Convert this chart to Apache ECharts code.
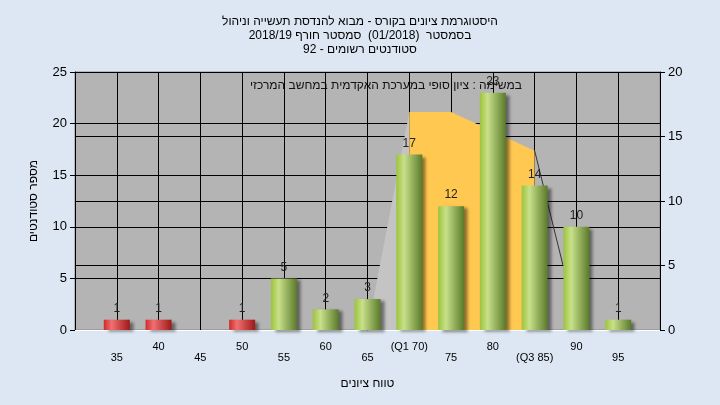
<!DOCTYPE html>
<html><head><meta charset="utf-8">
<script src="https://cdn.jsdelivr.net/npm/echarts@6/dist/echarts.min.js"></script>
<style>html,body{margin:0;background:#dde7f3}#c{width:720px;height:405px}</style>
</head><body><div id="c"></div>
<script>
var categories = ['35','40','45','50','55','60','65','70','75','80','85','90','95'];
var tickLabels = ['35','40','45','50','55','60','65','(Q1 70)','75','80','(Q3 85)','90','95'];
var counts = [1,1,0,1,5,2,3,17,12,23,14,10,1];
var failLimit = 55;
// overlay in grade units on right axis
var greyArea = [[65,0],[70,16.9]];
var quartArea = [[70,16.9],[75,16.9],[85,13.9]];
var tailLine = [[85,13.9],[88.4,5]];

var chart = echarts.init(document.getElementById('c'));
var green = new echarts.graphic.LinearGradient(0,0,1,0,[{offset:0,color:'#9cc43c'},{offset:0.3,color:'#c8e08a'},{offset:1,color:'#5a7a2a'}]);
var red = new echarts.graphic.LinearGradient(0,0,1,0,[{offset:0,color:'#d02a2a'},{offset:0.3,color:'#f07070'},{offset:1,color:'#a01818'}]);
// pad with an empty slot on each side (axis runs 30..100)
var cats = [''].concat(categories, ['']);
var labs = [''].concat(tickLabels, ['']);
var barData = [null].concat(counts.map(function(v,i){
  return {value:v, itemStyle:{color: +categories[i] < failLimit ? red : green}, label:{show:v>0}};
}), [null]);
var font = 'Liberation Sans';
chart.setOption({
  animation:false,
  backgroundColor:'#dde7f3',
  title:{text:'היסטוגרמת ציונים בקורס - מבוא להנדסת תעשייה וניהול\nבסמסטר  (01/2018)  סמסטר חורף 2018/19\nסטודנטים רשומים - 92',
    left:'center', top:10, textStyle:{fontSize:12,fontWeight:'normal',color:'#000',fontFamily:font,lineHeight:14}},
  grid:{left:75,right:60,top:72,bottom:75,show:true,backgroundColor:'#b4b4b4',borderColor:'#888'},
  graphic:[{type:'text',left:250,top:80,style:{text:'במשימה : ציון סופי במערכת האקדמית במחשב המרכזי',fontSize:12,fontFamily:font,fill:'#111'}}],
  xAxis:[{type:'category',data:cats,boundaryGap:false,
    axisTick:{show:false},axisLine:{lineStyle:{color:'#fff'}},
    splitLine:{show:true,lineStyle:{color:'#000',width:1}},
    axisLabel:{interval:0,color:'#000',fontSize:11,fontFamily:font,margin:11,
      formatter:function(v,i){return i%2===1 ? '\n'+labs[i] : labs[i];}},
    name:'טווח ציונים',nameLocation:'middle',nameGap:48,nameTextStyle:{color:'#000',fontSize:12,fontFamily:font}},
   {type:'value',min:30,max:100,show:false}],
  yAxis:[{type:'value',min:0,max:25,interval:5,
    axisLine:{show:true,lineStyle:{color:'#000'}},axisTick:{show:true},
    splitLine:{lineStyle:{color:'#000'}},
    axisLabel:{color:'#000',fontSize:13,fontFamily:font},
    name:'מספר סטודנטים',nameLocation:'middle',nameGap:35,nameTextStyle:{color:'#000',fontSize:12,fontFamily:font}},
   {type:'value',min:0,max:20,interval:5,position:'right',
    axisLine:{show:true,lineStyle:{color:'#000'}},axisTick:{show:true},
    splitLine:{show:true,lineStyle:{color:'#000'}},
    axisLabel:{color:'#000',fontSize:13,fontFamily:font}}],
  series:[
    {type:'line',xAxisIndex:1,yAxisIndex:1,data:greyArea,symbol:'none',lineStyle:{width:0},areaStyle:{color:'#c4c4c4',opacity:1},z:1},
    {type:'line',xAxisIndex:1,yAxisIndex:1,data:quartArea,symbol:'none',lineStyle:{width:0},areaStyle:{color:'#ffc850',opacity:1},z:1},
    {type:'line',xAxisIndex:1,yAxisIndex:1,data:tailLine,symbol:'none',lineStyle:{width:1,color:'#333'},z:1},
    {type:'bar',data:barData,barWidth:26,z:3,
      itemStyle:{shadowColor:'rgba(0,0,0,0.45)',shadowOffsetX:4,shadowOffsetY:2,shadowBlur:3},
      label:{position:'top',color:'#222',fontSize:12,fontFamily:font}}
  ]
});
</script></body></html>
